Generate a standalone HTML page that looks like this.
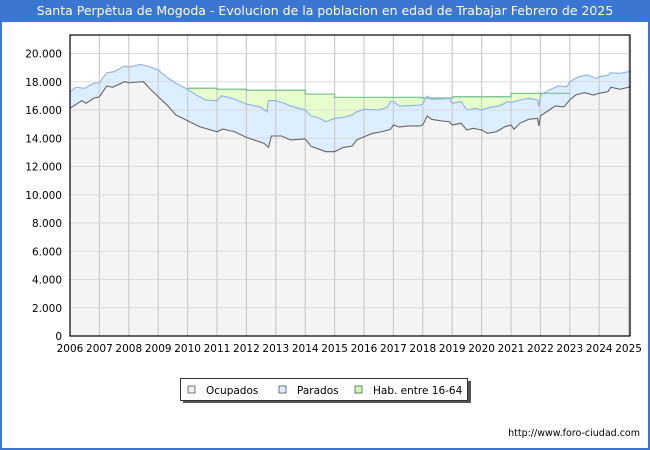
<!DOCTYPE html>
<html><head><meta charset="utf-8">
<style>
body{margin:0;background:#fff;}
#wrap{position:relative;width:650px;height:450px;overflow:hidden;font-family:"DejaVu Sans","Liberation Sans",sans-serif;}
#title{position:absolute;left:0;top:0;width:650px;height:22px;background:#3b76d3;color:#fff;font-size:12.5px;line-height:22px;text-align:center;}
#frame{position:absolute;left:0;top:22px;width:646px;height:426px;border-left:2px solid #3b76d3;border-right:2px solid #3b76d3;border-bottom:2px solid #3b76d3;}
#url{position:absolute;right:10px;top:428px;font-size:9.5px;color:#000;}
</style></head><body>
<div id="wrap">
<div id="title">Santa Perpètua de Mogoda - Evolucion de la poblacion en edad de Trabajar Febrero de 2025</div>
<div id="frame"></div>
<svg id="chart" width="650" height="450" style="position:absolute;left:0;top:0"></svg>
<div id="url">http://www.foro-ciudad.com</div>
</div>
<script>
const yTicks=[0,2000,4000,6000,8000,10000,12000,14000,16000,18000,20000];
const yTickLabels=["0","2.000","4.000","6.000","8.000","10.000","12.000","14.000","16.000","18.000","20.000"];
const xYears=[2006,2007,2008,2009,2010,2011,2012,2013,2014,2015,2016,2017,2018,2019,2020,2021,2022,2023,2024,2025];
const ocupTimes=[2006.0,2006.4,2006.55,2006.8,2007.0,2007.25,2007.45,2007.85,2008.0,2008.5,2008.7,2009.0,2009.3,2009.6,2010.0,2010.4,2011.0,2011.2,2011.6,2012.0,2012.6,2012.75,2012.85,2013.2,2013.5,2014.0,2014.2,2014.7,2015.0,2015.3,2015.6,2015.75,2016.0,2016.3,2016.6,2016.9,2017.0,2017.2,2017.5,2017.9,2018.0,2018.15,2018.3,2018.6,2018.9,2019.0,2019.3,2019.5,2019.7,2019.9,2020.0,2020.2,2020.5,2020.8,2021.0,2021.1,2021.3,2021.6,2021.9,2021.95,2022.0,2022.3,2022.5,2022.8,2023.0,2023.2,2023.5,2023.8,2024.0,2024.3,2024.4,2024.7,2025.0,2025.08];
const ocupValues=[16120,16660,16470,16830,16940,17700,17610,18000,17930,18000,17540,16940,16350,15650,15240,14820,14460,14650,14460,14060,13640,13360,14160,14160,13880,13950,13430,13050,13050,13350,13450,13880,14110,14350,14460,14630,14940,14790,14870,14870,14940,15580,15340,15240,15170,14940,15060,14580,14700,14630,14580,14350,14460,14820,14940,14630,15060,15340,15410,14870,15580,16000,16280,16230,16710,17060,17230,17060,17180,17300,17610,17470,17610,17650];
const parTimes=[2006.0,2006.2,2006.5,2006.8,2007.0,2007.25,2007.5,2007.85,2008.0,2008.4,2008.7,2009.0,2009.3,2009.6,2010.0,2010.3,2010.6,2011.0,2011.15,2011.5,2011.8,2012.0,2012.5,2012.7,2012.75,2013.0,2013.3,2013.5,2014.0,2014.2,2014.5,2014.7,2015.0,2015.3,2015.6,2015.75,2016.0,2016.5,2016.8,2016.9,2017.0,2017.2,2017.9,2018.0,2018.15,2018.3,2018.9,2019.0,2019.3,2019.5,2019.8,2020.0,2020.3,2020.6,2020.9,2021.0,2021.3,2021.6,2021.9,2021.95,2022.0,2022.3,2022.6,2022.9,2023.0,2023.3,2023.6,2023.9,2024.0,2024.3,2024.4,2024.7,2025.0,2025.08];
const parValues=[17300,17610,17540,17890,17930,18640,18710,19110,19040,19230,19070,18830,18310,17890,17470,17060,16710,16660,17010,16830,16600,16420,16190,15880,16660,16660,16470,16280,16000,15580,15410,15170,15410,15480,15650,15880,16050,16000,16190,16600,16600,16280,16350,16420,16990,16750,16830,16470,16600,16000,16110,16000,16190,16280,16600,16520,16710,16830,16710,16230,17060,17420,17700,17650,18000,18360,18470,18240,18360,18470,18640,18590,18710,18830];
const habYears=[2010,2011,2012,2013,2014,2015,2016,2017,2018,2019,2020,2021,2022];
const habValues=[17540,17470,17400,17400,17130,16900,16900,16900,16850,16940,16940,17180,17180];

const L=70,R=630,T=35,B=336,YMAX=21310,X0=2006,YW=29.4;
const xS=t=>L+(t-X0)*YW;
const yS=v=>B-(v/YMAX)*(B-T);
const svg=document.getElementById('chart');
const NS='http://www.w3.org/2000/svg';
function mk(tag,attrs){const e=document.createElementNS(NS,tag);for(const k in attrs)e.setAttribute(k,attrs[k]);svg.appendChild(e);return e;}

const bg=mk('rect',{x:L,y:T,width:R-L,height:B-T,fill:'#fff'});



let hp=[];habYears.forEach((yr,i)=>{hp.push([xS(yr),yS(habValues[i])]);hp.push([xS(yr+1),yS(habValues[i])]);});
const habArea=mk('path',{d:'M'+xS(habYears[0])+','+B+' L'+hp.map(p=>p.join(',')).join(' L')+' L'+xS(habYears[habYears.length-1]+1)+','+B+'Z',fill:'#e6ffcc'});



function series(ts,vs,fill,name){
 const pts=ts.map((t,i)=>[xS(t),yS(vs[i])]);
 const a=mk('path',{d:'M'+pts[0][0]+','+B+' L'+pts.map(p=>p.join(',')).join(' L')+' L'+pts[pts.length-1][0]+','+B+'Z',fill:fill});
 
 
 return pts;
}
const parPts=series(parTimes,parValues,'#ddeeff','parados');
const ocuPts=series(ocupTimes,ocupValues,'#f4f4f4','ocupados');

yTicks.forEach((v,i)=>{
 if(v>0){const g=mk('line',{x1:L,x2:R,y1:yS(v),y2:yS(v),stroke:'#dcdcdc','stroke-width':1});
 
 }
 const t=mk('text',{x:L-8,y:yS(v)+4,'text-anchor':'end','font-size':10.5,'font-family':'DejaVu Sans, Liberation Sans, sans-serif',fill:'#000'});
 t.textContent=yTickLabels[i];
 
 
});
xYears.forEach(yr=>{
 if(yr>X0){const g=mk('line',{x1:xS(yr),x2:xS(yr),y1:T,y2:B,stroke:'#cccccc','stroke-width':1.2});
 
 }
 const t=mk('text',{x:xS(yr),y:B+16,'text-anchor':'middle','font-size':10.5,'font-family':'DejaVu Sans, Liberation Sans, sans-serif',fill:'#000'});
 t.textContent=String(yr);
 
 
});
const hl=mk('path',{d:'M'+hp.map(p=>p.join(',')).join(' L'),fill:'none',stroke:'#78bb90','stroke-width':1.2});


const pl=mk('path',{d:'M'+parPts.map(p=>p.join(',')).join(' L'),fill:'none',stroke:'#8fb0e8','stroke-width':1.1});


const ol=mk('path',{d:'M'+ocuPts.map(p=>p.join(',')).join(' L'),fill:'none',stroke:'#666','stroke-width':1.1});


const fr=mk('rect',{x:L,y:T,width:R-L,height:B-T,fill:'none',stroke:'#000','stroke-width':1.2});



const sh=mk('rect',{x:183,y:381,width:288,height:22,fill:'#555'});


const lb=mk('rect',{x:180.5,y:378.5,width:287,height:22,fill:'#fff',stroke:'#333','stroke-width':1});


[['Ocupados','#eeeeee',188,'legend-ocupados'],['Parados','#ddeeff',279,'legend-parados'],['Hab. entre 16-64','#ccffaa',355,'legend-hab']].forEach(e=>{
 const s=mk('rect',{x:e[2],y:386,width:7,height:7,fill:e[1],stroke:'#555','stroke-width':0.8});
 
 
 const t=mk('text',{x:e[2]+18,y:394,'font-size':10.5,'font-family':'DejaVu Sans, Liberation Sans, sans-serif',fill:'#000'});
 t.textContent=e[0];
 
 
});
</script>
</body></html>
